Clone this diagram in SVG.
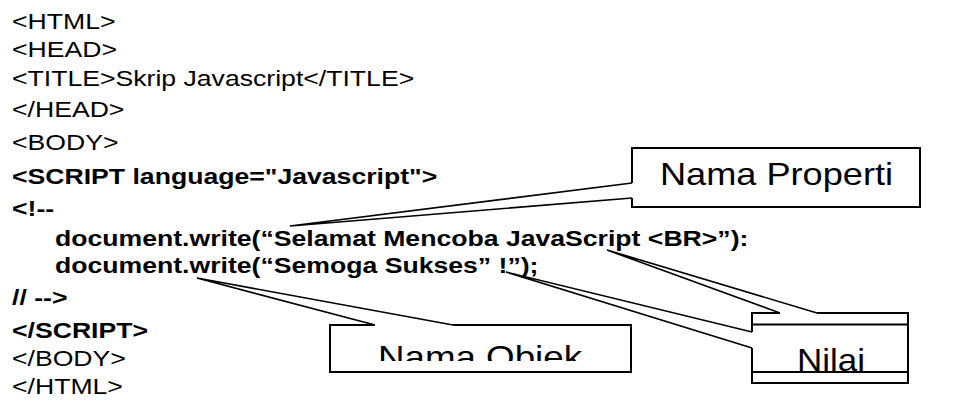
<svg xmlns="http://www.w3.org/2000/svg" width="970" height="405" viewBox="0 0 970 405">
  <defs>
    <style>
      .code { font-family: "Liberation Sans", Arial, sans-serif; font-size: 22px; fill: #000; }
      .b { font-weight: bold; }
      .label { font-family: "Liberation Sans", Arial, sans-serif; font-size: 32px; fill: #000; }
      .edge { fill: none; stroke: #000; stroke-width: 2; stroke-linejoin: miter; }
      .ptr { fill: none; stroke: #000; stroke-width: 1.6; }
    </style>
    <clipPath id="objekClip">
      <rect x="330" y="325" width="301" height="36"/>
    </clipPath>
  </defs>
  <rect width="970" height="405" fill="#fff"/>

  <!-- HTML source listing, glyphs widened horizontally -->
  <g id="code" transform="scale(1.21 1)">
    <text class="code" x="9.92" y="29">&lt;HTML&gt;</text>
    <text class="code" x="9.92" y="57">&lt;HEAD&gt;</text>
    <text class="code" x="9.92" y="86">&lt;TITLE&gt;Skrip Javascript&lt;/TITLE&gt;</text>
    <text class="code" x="9.92" y="117">&lt;/HEAD&gt;</text>
    <text class="code" x="9.92" y="150">&lt;BODY&gt;</text>
    <text class="code b" x="9.92" y="184">&lt;SCRIPT language="Javascript"&gt;</text>
    <text class="code b" x="9.92" y="216">&lt;!--</text>
    <text class="code b" x="45.45" y="246">document.write(“Selamat Mencoba JavaScript &lt;BR&gt;”):</text>
    <text class="code b" x="45.45" y="273">document.write(“Semoga Sukses” !”);</text>
    <text class="code b" x="9.92" y="305">// --&gt;</text>
    <text class="code b" x="9.92" y="338">&lt;/SCRIPT&gt;</text>
    <text class="code" x="9.92" y="366">&lt;/BODY&gt;</text>
    <text class="code" x="9.92" y="394">&lt;/HTML&gt;</text>
  </g>

  <!-- callout pointers -->
  <g id="connectors">
    <path class="ptr" d="M632,183 L290,226 L632,198"/>
    <path class="ptr" d="M375,325 L197,278 L453,325"/>
    <path class="ptr" d="M780,313 L607,250 L817,313"/>
    <path class="ptr" d="M752,332 L506,272 L752,348"/>
  </g>

  <g id="nama-properti">
    <path class="edge" d="M632,183 L632,148 L920,148 L920,207 L632,207 L632,198"/>
    <text class="label" x="660" y="185" textLength="233" lengthAdjust="spacingAndGlyphs">Nama Properti</text>
  </g>

  <g id="nama-objek">
    <path class="edge" d="M375,325 L330,325 L330,372 L631,372 L631,325 L453,325"/>
    <text class="label" x="378" y="368" textLength="204" lengthAdjust="spacingAndGlyphs" clip-path="url(#objekClip)">Nama Objek</text>
  </g>

  <g id="nilai">
    <path class="edge" d="M780,313 L752,313 L752,332 M752,348 L752,383 L908,383 L908,313 L817,313"/>
    <path class="edge" d="M752,324.5 L908,324.5 M752,372 L908,372"/>
    <text class="label" x="797" y="371" font-size="35" textLength="68" lengthAdjust="spacingAndGlyphs">Nilai</text>
  </g>
</svg>
